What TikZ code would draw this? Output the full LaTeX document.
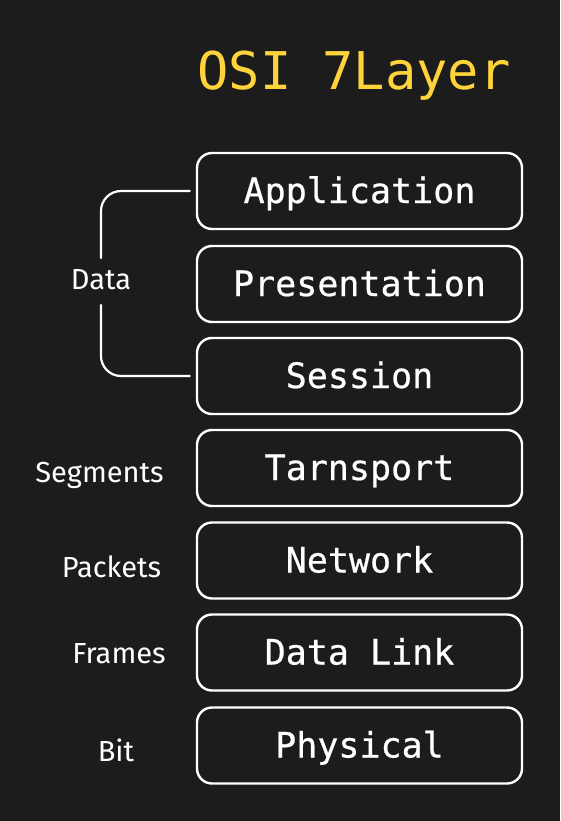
\documentclass[tikz,border=0pt]{standalone}
\usepackage{fontspec}
\setmainfont{Fira Sans}
\newfontfamily\codefont[FakeBold=0.6]{DejaVu Sans Mono}
\newfontfamily\titlefont{DejaVu Sans Mono}
\definecolor{bg}{HTML}{1C1C1C}
\definecolor{titleyellow}{HTML}{FFD43B}
\tikzset{
  wire/.style={draw=white, line width=2.2pt, rounded corners=20pt, line cap=round},
  layerbox/.style={draw=white, line width=2.4pt, rounded corners=15pt,
    minimum width=325pt, minimum height=76pt, inner sep=0pt,
    text=white, font=\codefont\fontsize{35}{40}\selectfont,
    text height=24pt, text depth=0pt},
  pdulabel/.style={text=white, font=\fontsize{29}{32}\selectfont, anchor=base, inner sep=0pt},
  titletext/.style={text=titleyellow, font=\titlefont\fontsize{52}{60}\selectfont, anchor=base, inner sep=0pt}
}
\begin{document}
\begin{tikzpicture}[x=1pt,y=-1pt]
\fill[bg] (0,0) rectangle (560,821);
\useasboundingbox (0,0) rectangle (560,821);

\node[titletext] (title) at (354,90) {OSI 7Layer};

\node[layerbox] (app)  at (359.5,191)   {Application};
\node[layerbox] (pres) at (359.5,284)   {Presentation};
\node[layerbox] (ses)  at (359.5,376)   {Session};
\node[layerbox] (tra)  at (359.5,468)   {Tarnsport};
\node[layerbox] (net)  at (359.5,560.5) {Network};
\node[layerbox] (dl)   at (359.5,652.5) {Data Link};
\node[layerbox] (phy)  at (359.5,745.5) {Physical};

\node[pdulabel] (data) at (101,289) {Data};
\node[pdulabel] (seg)  at (99.5,482) {Segments};
\node[pdulabel] (pkt)  at (111.5,577) {Packets};
\node[pdulabel] (frm)  at (119,663) {Frames};
\node[pdulabel] (bit)  at (116,761) {Bit};

\coordinate (dtop) at (101,258);
\coordinate (dbot) at (101,305);
\draw[wire] (dtop) |- ([xshift=-6pt]app.west);
\draw[wire] (dbot) |- ([xshift=-6pt]ses.west);
\end{tikzpicture}
\end{document}
